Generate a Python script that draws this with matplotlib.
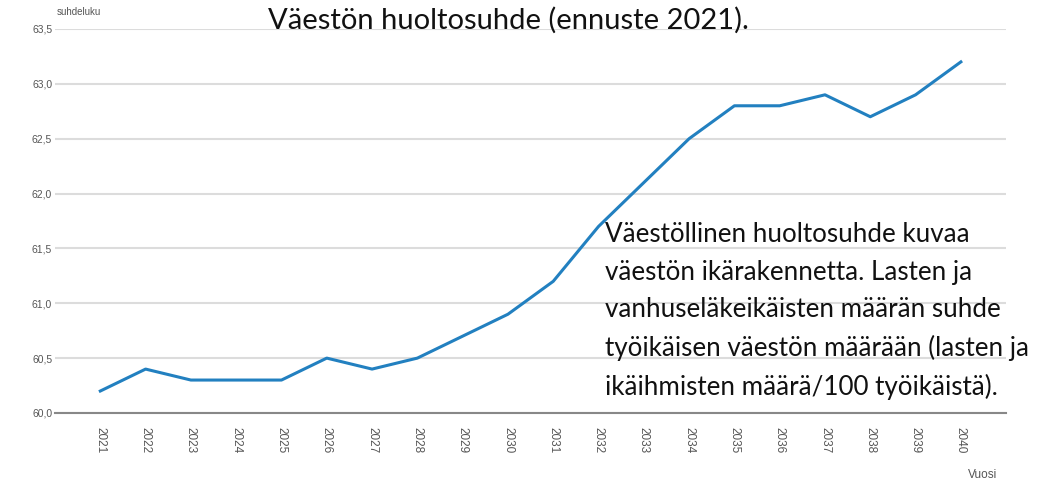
import matplotlib
matplotlib.use("Agg")
import matplotlib.pyplot as plt
from matplotlib.ticker import FuncFormatter

years = list(range(2021, 2041))
values = [60.2, 60.4, 60.3, 60.3, 60.3, 60.5, 60.4, 60.5, 60.7, 60.9,
          61.2, 61.7, 62.1, 62.5, 62.8, 62.8, 62.9, 62.7, 62.9, 63.2]
yticks = [60.0, 60.5, 61.0, 61.5, 62.0, 62.5, 63.0, 63.5]

title = "Väestön huoltosuhde (ennuste 2021)."
note = ("Väestöllinen huoltosuhde kuvaa\n"
        "väestön ikärakennetta. Lasten ja\n"
        "vanhuseläkeikäisten määrän suhde\n"
        "työikäisen väestön määrään (lasten ja\n"
        "ikäihmisten määrä/100 työikäistä).")

fig = plt.figure(figsize=(10.58, 4.83), dpi=100)
ax = fig.add_axes([0.052, 0.145, 0.899, 0.795])

ax.plot(years, values, color="#2280c0", lw=2.2, solid_joinstyle="round", zorder=3)

ax.set_xlim(2020, 2041)
ax.set_ylim(60.0, 63.5)
ax.set_yticks(yticks)
ax.yaxis.set_major_formatter(FuncFormatter(lambda v, p: f"{v:.1f}".replace(".", ",")))
ax.set_xticks(years)
ax.set_xticklabels([str(y) for y in years], rotation=-90, fontsize=8.5, color="#555555",
                   family="Liberation Sans")
for lab in ax.get_yticklabels():
    lab.set_fontsize(7.5)
    lab.set_color("#555555")
    lab.set_family("Liberation Sans")

ax.grid(axis="y", color="#dcdcdc", lw=1.5)
ax.set_axisbelow(True)
for s in ["top", "right", "left"]:
    ax.spines[s].set_visible(False)
ax.spines["bottom"].set_color("#888888")
ax.spines["bottom"].set_linewidth(1.5)
ax.tick_params(axis="x", length=0, pad=10)
ax.tick_params(axis="y", length=0, pad=2)

fig.text(0.054, 0.965, "suhdeluku", fontsize=7, color="#555555", family="Liberation Sans",
         ha="left", va="bottom")
fig.text(0.915, 0.017, "Vuosi", fontsize=8.5, color="#555555", family="Liberation Sans",
         ha="left", va="center")

fig.text(0.481, 0.957, title, fontsize=21, family="Lato", ha="center", va="center",
         color="#111111")
fig.text(0.572, 0.54, note, fontsize=18.7, family="Lato", ha="left", va="top",
         color="#111111", linespacing=1.62)

fig.savefig("out.png", dpi=100)
